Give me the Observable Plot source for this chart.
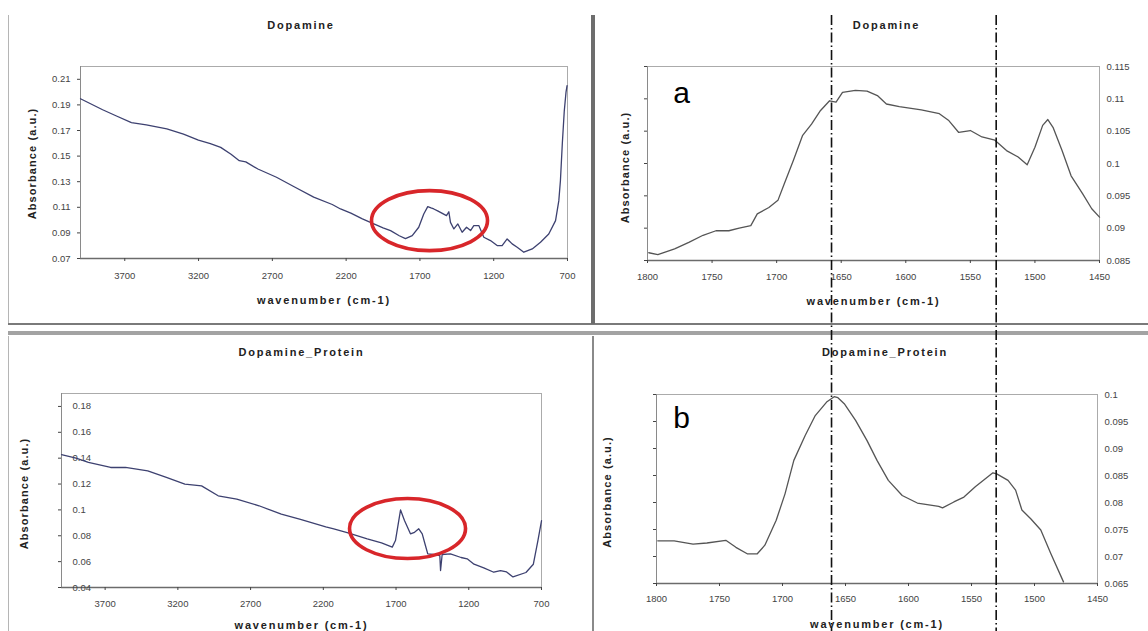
<!DOCTYPE html>
<html><head><meta charset="utf-8">
<script src="https://cdn.jsdelivr.net/npm/d3@7"></script>
<script src="https://cdn.jsdelivr.net/npm/@observablehq/plot@0.6"></script>
<style>
body{margin:0;background:#fff;}
#root{position:relative;width:1148px;height:631px;overflow:hidden;font-family:"Liberation Sans",Arial,sans-serif;}
.deco,.pane{position:absolute;}
.pane svg{overflow:visible;}
</style></head><body><div id="root"></div>
<script>
// ---------- tick labels ----------
const fullRangeTicks = [3700, 3200, 2700, 2200, 1700, 1200, 700];
const zoomRangeTicks = [1800, 1750, 1700, 1650, 1600, 1550, 1500, 1450];
const dopFullYTicks = [0.07, 0.09, 0.11, 0.13, 0.15, 0.17, 0.19, 0.21];
const protFullYTicks = [0.04, 0.06, 0.08, 0.1, 0.12, 0.14, 0.16, 0.18];
const dopZoomYTicks = [0.085, 0.09, 0.095, 0.1, 0.105, 0.11, 0.115];
const protZoomYTicks = [0.065, 0.07, 0.075, 0.08, 0.085, 0.09, 0.095, 0.1];

// ---------- Dopamine, full spectrum ----------
const dopFullWn = [4000,3850,3760,3655,3554,3415,3302,3201,3120,3050,2980,2924,2880,2798,2672,2546,2420,2294,2238,2168,2090,2012,1950,1899,1840,1798,1752,1708,1674,1647,1625,1606,1580,1561,1520,1504,1493,1470,1443,1414,1384,1357,1335,1301,1267,1222,1177,1143,1109,1075,1041,996,939,883,827,781,759,748,735,722,710,703];
const dopFullAbs = [0.1948,0.1862,0.1815,0.1762,0.1744,0.1712,0.1671,0.1625,0.1598,0.1568,0.1515,0.1464,0.1455,0.1399,0.1335,0.1257,0.1179,0.1122,0.1087,0.1055,0.1010,0.0970,0.0940,0.0918,0.0878,0.0855,0.0879,0.0944,0.1048,0.1105,0.1095,0.1087,0.1072,0.1060,0.1035,0.1065,0.0982,0.0931,0.0970,0.0905,0.0944,0.0918,0.0957,0.0957,0.0866,0.0840,0.0801,0.0801,0.0853,0.0814,0.0788,0.0749,0.0775,0.0827,0.0892,0.0996,0.1150,0.1307,0.160,0.185,0.200,0.205];

// ---------- Dopamine, 1800-1450 ----------
const dopZoomWn = [1799,1792,1779,1768,1757,1747,1737,1729,1720,1715,1706,1699,1694,1687,1680,1673,1666,1659,1654,1649,1639,1630,1622,1615,1605,1588,1574,1567,1559,1550,1541,1531,1522,1513,1506,1500,1494,1490,1486,1479,1472,1463,1456,1450];
const dopZoomAbs = [0.0862,0.0859,0.0868,0.0878,0.0889,0.0896,0.0896,0.0900,0.0904,0.0922,0.0932,0.0943,0.0969,0.1005,0.1043,0.1061,0.1082,0.1097,0.1095,0.1110,0.1113,0.1112,0.1105,0.1092,0.1088,0.1083,0.1077,0.1067,0.1048,0.1051,0.1041,0.1036,0.1020,0.1010,0.0998,0.1025,0.1059,0.1068,0.1056,0.1020,0.0981,0.0953,0.0930,0.0917];

// ---------- Dopamine_Protein, full spectrum ----------
const protFullWn = [4000,3900,3815,3662,3560,3407,3279,3152,3037,2923,2795,2642,2489,2357,2183,2128,2030,1898,1800,1726,1704,1669,1642,1601,1573,1544,1520,1498,1482,1441,1399,1394,1383,1326,1253,1211,1164,1097,1028,982,940,896,807,756,725,700];
const protFullAbs = [0.1428,0.1400,0.1367,0.1328,0.1328,0.1302,0.1251,0.1199,0.1186,0.1109,0.1083,0.1032,0.0967,0.0926,0.0869,0.0854,0.0822,0.0776,0.0745,0.0712,0.0763,0.1000,0.0918,0.0815,0.0827,0.0854,0.0815,0.0725,0.0660,0.0655,0.0647,0.0531,0.0655,0.0660,0.0632,0.0622,0.0580,0.0552,0.0518,0.0531,0.0520,0.0482,0.0516,0.0580,0.0761,0.0916];

// ---------- Dopamine_Protein, 1800-1450 ----------
const protZoomWn = [1799,1786,1771,1760,1745,1737,1728,1720,1714,1705,1698,1691,1682,1674,1665,1659,1656,1651,1642,1633,1625,1616,1605,1593,1576,1573,1564,1556,1547,1540,1533,1530,1521,1515,1510,1503,1495,1487,1477];
const protZoomAbs = [0.0729,0.0729,0.0723,0.0725,0.0730,0.0717,0.0705,0.0705,0.0721,0.0767,0.0816,0.0878,0.0924,0.0961,0.0986,0.0996,0.0994,0.0983,0.0952,0.0915,0.0878,0.0841,0.0813,0.0799,0.0793,0.0790,0.0801,0.0810,0.0829,0.0842,0.0855,0.0853,0.0841,0.0823,0.0786,0.0770,0.0749,0.0705,0.0653];

// ---------- annotations ----------
const markerWavenumbers = [1657.5, 1530];
const dopHighlight = {wn: 1635, ab: 0.0996};
const protHighlight = {wn: 1621, ab: 0.0856};

const fmt = d => String(+d.toFixed(4));
const pairs = (xs, ys) => xs.map((x, i) => ({wn: x, ab: ys[i]}));

function ellipseSymbol(rx, ry) {
  const k = 0.5523;
  return {draw(ctx) {
    ctx.moveTo(rx, 0);
    ctx.bezierCurveTo(rx, k*ry, k*rx, ry, 0, ry);
    ctx.bezierCurveTo(-k*rx, ry, -rx, k*ry, -rx, 0);
    ctx.bezierCurveTo(-rx, -k*ry, -k*rx, -ry, 0, -ry);
    ctx.bezierCurveTo(k*rx, -ry, rx, -k*ry, rx, 0);
    ctx.closePath();
  }};
}

function makePanel(c) {
  const marks = [
    Plot.frame({stroke: "#ababab"}),
    Plot.ruleY([c.yDomain[0]], {stroke: "#6b6b6b", strokeWidth: 1.3}),
    Plot.ruleX([c.xDomain[0]], {stroke: "#8a8a8a"}),
    Plot.axisX({ticks: c.xTicks, tickSize: 3, tickPadding: c.xPad, tickFormat: d => String(d), label: null, fontSize: 9.5})
  ];
  if (c.side === "left") {
    marks.push(Plot.axisY({anchor: "left", ticks: c.yTicks, tickSize: 3, tickPadding: c.yPad,
      textAnchor: c.yInside ? "start" : "end", tickFormat: fmt, label: null, fontSize: 9.5}));
  } else {
    marks.push(Plot.axisY({anchor: "left", ticks: c.yTicks, tickSize: 3, tickFormat: () => "", label: null}));
    marks.push(Plot.axisY({anchor: "right", ticks: c.yTicks, tickSize: 0, tickPadding: c.yPad, tickFormat: fmt, label: null, fontSize: 9.5}));
  }
  marks.push(Plot.line(pairs(c.wn, c.ab), {x: "wn", y: "ab", stroke: c.lineColor, strokeWidth: 1.3}));
  if (c.highlight) marks.push(Plot.dot([c.highlight], {x: "wn", y: "ab", symbol: ellipseSymbol(58, 30), fill: "none", stroke: "#d8262a", strokeWidth: 3.6}));
  const txt = {text: d => d, textAnchor: "middle", lineAnchor: "middle", fill: "#222"};
  marks.push(Plot.text([c.title], {...txt, frameAnchor: "top", dx: c.titleDx, dy: c.titleDy, fontWeight: "bold", fontSize: 11}));
  marks.push(Plot.text(["wavenumber (cm-1)"], {...txt, frameAnchor: "bottom", dy: c.xlabDy, fontWeight: "bold", fontSize: 11}));
  marks.push(Plot.text(["Absorbance (a.u.)"], {...txt, frameAnchor: "left", rotate: -90, dx: c.ylabDx, dy: c.ylabDy || 0, fontWeight: "bold", fontSize: 11}));
  if (c.letter) marks.push(Plot.text([c.letter], {...txt, fill: "#000", frameAnchor: "top-left", dx: c.letterDx, dy: c.letterDy, fontSize: 30}));

  const svg = Plot.plot({
    width: c.width, height: c.height,
    marginLeft: c.ml, marginRight: c.mr, marginTop: c.mt, marginBottom: c.mb,
    x: {domain: c.xDomain, axis: null, label: null},
    y: {domain: c.yDomain, axis: null, label: null},
    style: {background: "transparent", color: "#444", fontFamily: "Liberation Sans, Arial, sans-serif", fontSize: "9.5px", overflow: "visible"},
    marks
  });
  const sel = d3.select(svg).selectAll("text");
  sel.filter(function() { return this.textContent === c.title; }).style("letter-spacing", "1.8px");
  sel.filter(function() { return this.textContent === "wavenumber (cm-1)"; }).style("letter-spacing", "1.8px");
  sel.filter(function() { return this.textContent === "Absorbance (a.u.)"; }).style("letter-spacing", "1.1px");
  const div = document.createElement("div");
  div.className = "pane";
  div.style.left = c.left + "px"; div.style.top = c.top + "px";
  div.appendChild(svg);
  return div;
}

const root = document.getElementById("root");
function deco(l, t, w, h, col) {
  const d = document.createElement("div");
  d.className = "deco";
  Object.assign(d.style, {left: l + "px", top: t + "px", width: w + "px", height: h + "px", background: col});
  root.appendChild(d);
}
deco(8, 15, 1, 309, "#b5b5b5");
deco(8, 323, 1140, 2, "#7a7a7a");
deco(8, 331, 1140, 4, "#a3a3a3");
deco(591, 15, 4, 309, "#6d6d6d");
deco(592, 336, 2, 295, "#8a8a8a");
deco(8, 336, 1, 295, "#b5b5b5");

root.appendChild(makePanel({
  left: 0, top: 0, width: 580, height: 320, ml: 80, mr: 13, mt: 66, mb: 62,
  xDomain: [4000, 700], yDomain: [0.07, 0.22], xTicks: fullRangeTicks, yTicks: dopFullYTicks,
  side: "left", yPad: 7, xPad: 11, wn: dopFullWn, ab: dopFullAbs, lineColor: "#3d4170",
  title: "Dopamine", titleDx: -23, titleDy: -41, xlabDy: 42, ylabDx: -48, ylabDy: 1, highlight: dopHighlight
}));
root.appendChild(makePanel({
  left: 580, top: 0, width: 568, height: 320, ml: 67, mr: 49, mt: 66, mb: 60,
  xDomain: [1800, 1450], yDomain: [0.085, 0.115], xTicks: zoomRangeTicks, yTicks: dopZoomYTicks,
  side: "right", yPad: 7, xPad: 10, wn: dopZoomWn, ab: dopZoomAbs, lineColor: "#555",
  title: "Dopamine", titleDx: 13, titleDy: -41, xlabDy: 41, ylabDx: -22, ylabDy: 4,
  letter: "a", letterDx: 34, letterDy: 27
}));
root.appendChild(makePanel({
  left: 0, top: 320, width: 580, height: 311, ml: 61, mr: 39, mt: 73, mb: 44,
  xDomain: [4000, 700], yDomain: [0.04, 0.19], xTicks: fullRangeTicks, yTicks: protFullYTicks,
  side: "left", yInside: true, yPad: -14, xPad: 10, wn: protFullWn, ab: protFullAbs, lineColor: "#3d4170",
  title: "Dopamine_Protein", titleDx: 0, titleDy: -41, xlabDy: 38, ylabDx: -37, ylabDy: 3, highlight: protHighlight
}));
root.appendChild(makePanel({
  left: 580, top: 320, width: 568, height: 311, ml: 76, mr: 51, mt: 74, mb: 48,
  xDomain: [1800, 1450], yDomain: [0.065, 0.1], xTicks: zoomRangeTicks, yTicks: protZoomYTicks,
  side: "right", yPad: 7, xPad: 9, wn: protZoomWn, ab: protZoomAbs, lineColor: "#555",
  title: "Dopamine_Protein", titleDx: 8, titleDy: -42, xlabDy: 41, ylabDx: -49, ylabDy: 3,
  letter: "b", letterDx: 25, letterDy: 24
}));

// dash-dot marker lines spanning both right-hand panels
const overlay = Plot.plot({
  width: 1148, height: 631, marginLeft: 647, marginRight: 49, marginTop: 15, marginBottom: 0,
  x: {domain: [1800, 1450], axis: null}, y: {axis: null},
  style: {background: "transparent"},
  marks: [Plot.ruleX(markerWavenumbers, {stroke: "#111", strokeWidth: 1.6, strokeDasharray: "10,3,1.5,3"})]
});
const od = document.createElement("div");
od.className = "pane"; od.style.left = "0px"; od.style.top = "0px"; od.style.pointerEvents = "none";
od.appendChild(overlay);
root.appendChild(od);
</script></body></html>
